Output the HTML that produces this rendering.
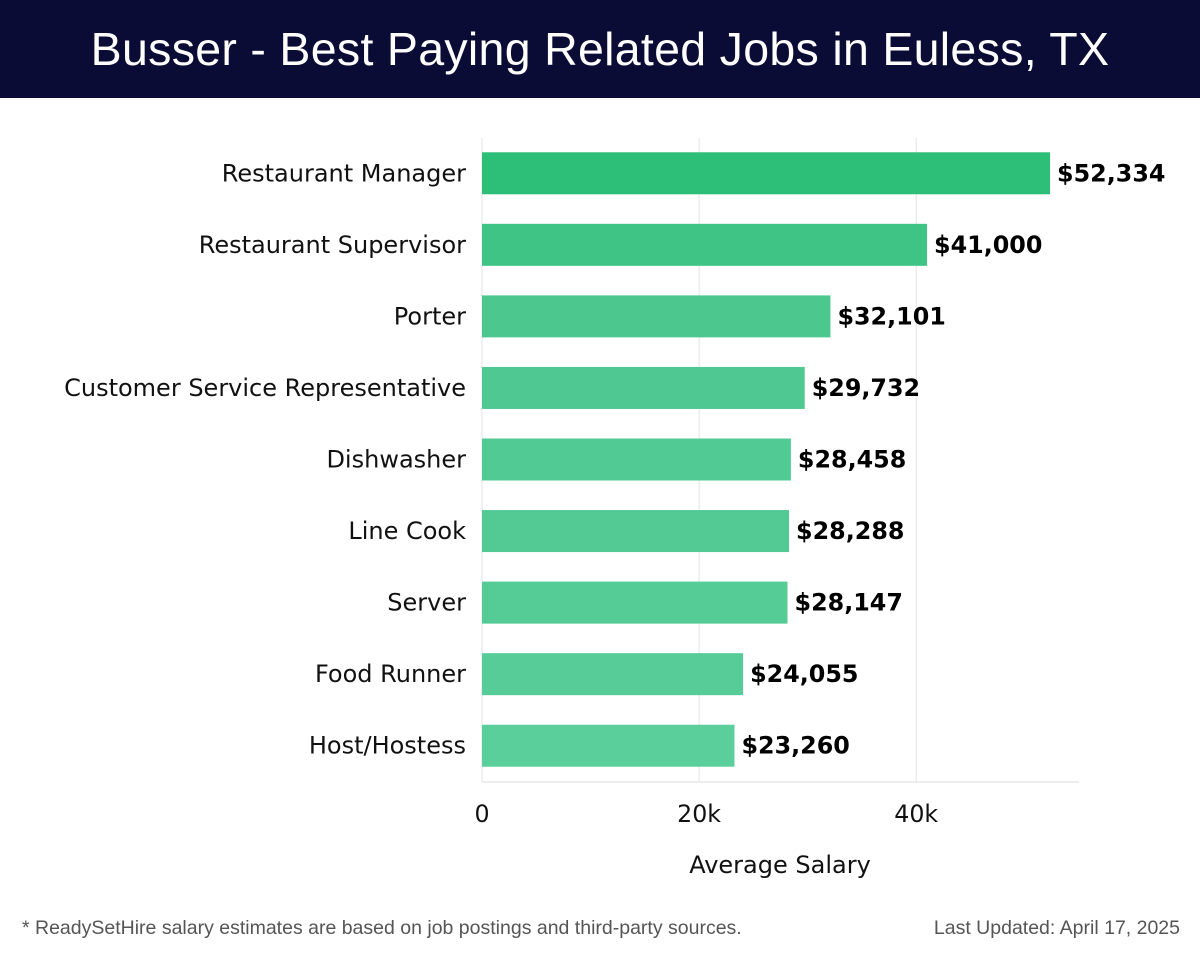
<!DOCTYPE html>
<html><head><meta charset="utf-8"><style>
body{margin:0;width:1200px;height:958px;background:#fff;font-family:"Liberation Sans",sans-serif;overflow:hidden}
#hdr{position:absolute;left:0;top:0;width:1200px;height:98px;background:#0b0c35;color:#fff;font-size:46.5px;font-weight:300;text-align:center;line-height:98px;letter-spacing:0.3px}
.foot{position:absolute;top:917px;font-size:19.5px;color:#555}
</style></head><body>
<div id="hdr">Busser - Best Paying Related Jobs in Euless, TX</div>
<svg id="chart" width="1200" height="958" style="position:absolute;left:0;top:0;font-family:'DejaVu Sans',sans-serif"></svg>
<div class="foot" style="left:22px">* ReadySetHire salary estimates are based on job postings and third-party sources.</div>
<div class="foot" style="right:20px">Last Updated: April 17, 2025</div>
<script>
const categories=["Restaurant Manager","Restaurant Supervisor","Porter","Customer Service Representative","Dishwasher","Line Cook","Server","Food Runner","Host/Hostess"];
const values=[52334,41000,32101,29732,28458,28288,28147,24055,23260];
const valueLabels=["$52,334","$41,000","$32,101","$29,732","$28,458","$28,288","$28,147","$24,055","$23,260"];
const tickValues=[0,20000,40000];
const tickLabels=["0","20k","40k"];
const svg=document.getElementById('chart');
const NS='http://www.w3.org/2000/svg';
const x0=482,xMax=55000,xW=597,plotTop=138,plotBottom=782;
const xs=v=>x0+v/xMax*xW;
const band=(plotBottom-plotTop)/categories.length;
const yc=i=>plotTop+band*(i+0.5)-0.5;
function mk(t,a,txt){const e=document.createElementNS(NS,t);for(const k in a)e.setAttribute(k,a[k]);if(txt!==undefined)e.textContent=txt;svg.appendChild(e);return e;}
tickValues.forEach((v,i)=>{
 const g=mk('line',{x1:xs(v),x2:xs(v),y1:plotTop,y2:plotBottom,stroke:'#e3e3e3','stroke-width':1});
 
 
 const t=mk('text',{x:xs(v),y:822,'text-anchor':'middle','font-size':23.7,fill:'#111'},tickLabels[i]);
 
 
});
const ax=mk('line',{x1:x0,x2:x0+xW,y1:plotBottom,y2:plotBottom,stroke:'#ddd','stroke-width':1});


const at=mk('text',{x:780,y:873,'text-anchor':'middle','font-size':24,fill:'#111'},'Average Salary');


const cols=['#2dbf78','#3fc486','#4cc88f','#4fc991','#51ca93','#53ca94','#55cb96','#57cc98','#5ace9b'];
categories.forEach((c,i)=>{
 const y=yc(i);
 const r=mk('rect',{x:x0,y:y-21,width:xs(values[i])-x0,height:42,fill:cols[i]});
 
 
 const l=mk('text',{x:466,y:y+8,'text-anchor':'end','font-size':24,fill:'#111'},c);
 
 
 const v=mk('text',{x:xs(values[i])+7,y:y+8,'font-size':23.8,'font-weight':'bold',fill:'#000'},valueLabels[i]);
 
 
});
</script>
</body></html>
